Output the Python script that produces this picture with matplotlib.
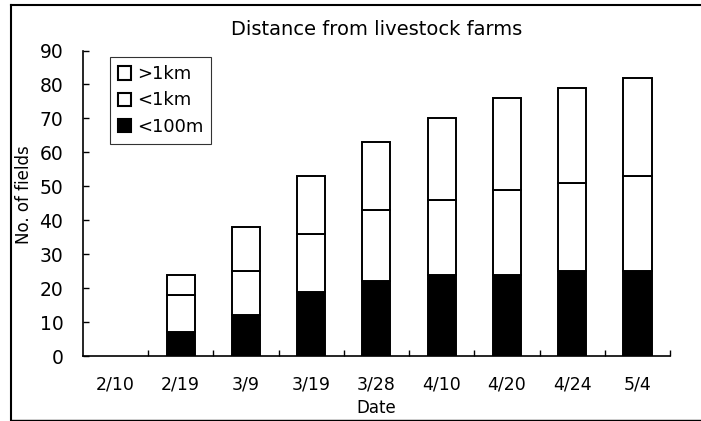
import matplotlib.pyplot as plt
import numpy as np
from matplotlib.lines import Line2D
from matplotlib.patches import Patch

plt.rcParams["font.family"] = ["DejaVu Sans"]

dates = ["2/10", "2/19", "3/9", "3/19", "3/28", "4/10", "4/20", "4/24", "5/4"]
near_100m = [0, 7, 12, 19, 22, 24, 24, 25, 25]
under_1km = [0, 11, 13, 17, 21, 22, 25, 26, 28]
over_1km = [0, 6, 13, 17, 20, 24, 27, 28, 29]

fig = plt.figure(figsize=(7.01, 4.21), dpi=100)
ax = fig.add_axes([0.118, 0.154, 0.838, 0.726])

x = np.arange(len(dates))
near = np.array(near_100m)
mid = np.array(under_1km)
far = np.array(over_1km)
total = near + mid + far
shown = total > 0

bar_kw = dict(width=0.43, edgecolor="black", linewidth=1.4)
ax.bar(x[shown], near[shown], color="black", **bar_kw)
ax.bar(x[shown], mid[shown], bottom=near[shown], color="white", **bar_kw)
ax.bar(x[shown], far[shown], bottom=(near + mid)[shown], color="white", **bar_kw)

ax.set_xlim(-0.5, len(dates) - 0.5)
ax.set_ylim(0, 90)
ax.set_yticks(range(0, 91, 10))
ax.set_xticks(x)
ax.set_xticklabels(dates)
ax.set_xticks(x + 0.5, minor=True)
ax.tick_params(axis="x", which="major", length=0, labelsize=12.5, pad=14)
ax.tick_params(axis="x", which="minor", direction="in", length=4, width=1)
ax.tick_params(axis="y", direction="in", length=4, width=1, labelsize=13.5, pad=14)

for side in ["top", "right"]:
    ax.spines[side].set_visible(False)
for side in ["left", "bottom"]:
    ax.spines[side].set_linewidth(1.2)

ax.set_title("Distance from livestock farms", fontsize=14, pad=11)
ax.set_xlabel("Date", fontsize=12, labelpad=4)
ax.set_ylabel("No. of fields", fontsize=12)
ax.yaxis.set_label_coords(-0.084, 0.53)

handles = [
    Patch(facecolor="white", edgecolor="black", linewidth=1.5),
    Patch(facecolor="white", edgecolor="black", linewidth=1.5),
    Patch(facecolor="black", edgecolor="black", linewidth=1.5),
]
leg = ax.legend(handles, [">1km", "<1km", "<100m"], loc="upper left",
                bbox_to_anchor=(0.046, 0.978), fontsize=13, frameon=True,
                fancybox=False, handlelength=0.75, handleheight=0.75,
                handletextpad=0.3, labelspacing=0.45, borderpad=0.45,
                borderaxespad=0)
leg.get_frame().set_edgecolor("black")
leg.get_frame().set_linewidth(0.8)

# outer frame of the original figure
W, H = 701, 421
fig.add_artist(Line2D([11 / W, 11 / W], [1 / H, 1 - 5 / H], color="black", lw=1.5))
fig.add_artist(Line2D([11 / W, 1], [1 - 5 / H, 1 - 5 / H], color="black", lw=1.5))
fig.add_artist(Line2D([11 / W, 1], [1.5 / H, 1.5 / H], color="black", lw=1.0))

fig.savefig("out.png", dpi=100)
